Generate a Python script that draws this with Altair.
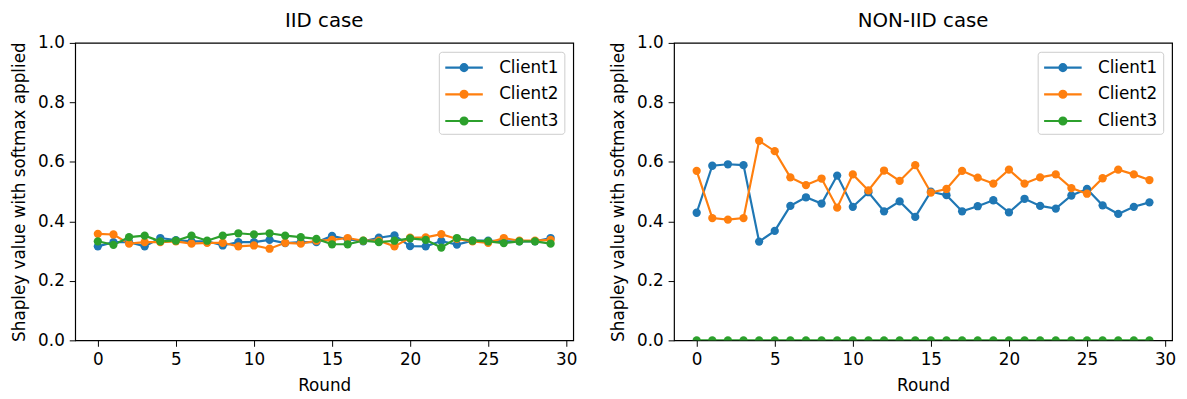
import altair as alt
import pandas as pd

rounds = list(range(30))
clients = ["Client1", "Client2", "Client3"]
colors = ["#1f77b4", "#ff7f0e", "#2ca02c"]

iid_c1 = [0.316, 0.330, 0.330, 0.316, 0.344, 0.337, 0.333, 0.333, 0.319, 0.330,
          0.330, 0.338, 0.327, 0.330, 0.330, 0.351, 0.340, 0.333, 0.345, 0.353,
          0.317, 0.316, 0.334, 0.322, 0.335, 0.335, 0.333, 0.333, 0.333, 0.344]
iid_c2 = [0.358, 0.356, 0.325, 0.330, 0.330, 0.333, 0.325, 0.328, 0.328, 0.316,
          0.319, 0.308, 0.328, 0.325, 0.335, 0.338, 0.344, 0.335, 0.335, 0.316,
          0.345, 0.346, 0.357, 0.341, 0.333, 0.328, 0.344, 0.335, 0.335, 0.338]
iid_c3 = [0.333, 0.321, 0.347, 0.352, 0.333, 0.335, 0.352, 0.335, 0.352, 0.360,
          0.356, 0.360, 0.352, 0.347, 0.341, 0.323, 0.323, 0.335, 0.330, 0.335,
          0.343, 0.338, 0.312, 0.344, 0.335, 0.333, 0.327, 0.333, 0.333, 0.325]

non_c1 = [0.429, 0.587, 0.592, 0.589, 0.332, 0.368, 0.452, 0.481, 0.460, 0.554,
          0.449, 0.498, 0.434, 0.467, 0.415, 0.500, 0.488, 0.434, 0.451, 0.471,
          0.430, 0.476, 0.452, 0.443, 0.487, 0.509, 0.454, 0.425, 0.449, 0.464]
non_c2 = [0.570, 0.411, 0.406, 0.411, 0.671, 0.636, 0.548, 0.522, 0.544, 0.446,
          0.558, 0.504, 0.571, 0.536, 0.589, 0.497, 0.509, 0.570, 0.547, 0.527,
          0.574, 0.527, 0.548, 0.558, 0.512, 0.493, 0.545, 0.574, 0.558, 0.539]
non_c3 = [0.0, 0.0, 0.0, 0.0, 0.0, 0.0, 0.0, 0.0, 0.0, 0.0,
          0.0, 0.0, 0.0, 0.0, 0.0, 0.0, 0.0, 0.0, 0.0, 0.0,
          0.0, 0.0, 0.0, 0.0, 0.0, 0.0, 0.0, 0.0, 0.0, 0.0]

x_ticks = [0, 5, 10, 15, 20, 25, 30]
y_ticks = [0.0, 0.2, 0.4, 0.6, 0.8, 1.0]


def long_df(series):
    rows = []
    for name, vals in zip(clients, series):
        for r, v in zip(rounds, vals):
            rows.append({"Round": r, "value": v, "client": name})
    return pd.DataFrame(rows)


FONT = "DejaVu Sans"
LEGEND_SYMBOL = ("M-1,0H3M1,-0.37A0.37,0.37,0,1,1,1,0.37"
                 "A0.37,0.37,0,1,1,1,-0.37Z")


def panel(series, title):
    df = long_df(series)
    x = alt.X("Round:Q",
              scale=alt.Scale(domain=[-1.45, 30.45], nice=False, zero=False),
              axis=alt.Axis(values=x_ticks, title="Round", format="d"))
    y = alt.Y("value:Q",
              scale=alt.Scale(domain=[0, 1], nice=False),
              axis=alt.Axis(values=y_ticks, format=".1f",
                            title="Shapley value with softmax applied"))
    color = alt.Color("client:N",
                      scale=alt.Scale(domain=clients, range=colors),
                      legend=alt.Legend(title=None, orient="top-right"))
    base = alt.Chart(df).encode(x=x, y=y, color=color)
    line = base.mark_line(strokeWidth=2.2, clip=True)
    pts = base.mark_point(filled=True, size=70, opacity=1, clip=True)
    return alt.layer(line, pts).properties(
        width=504, height=301,
        title=alt.TitleParams(title, fontSize=20, font=FONT,
                              fontWeight="normal", color="black", offset=3))


left = panel([iid_c1, iid_c2, iid_c3], "IID case")
right = panel([non_c1, non_c2, non_c3], "NON-IID case")

chart = alt.hconcat(left, right, spacing=31).resolve_scale(
    color="independent"
).resolve_legend(
    color="independent"
).properties(
    padding={"left": 2, "top": 0, "right": 2, "bottom": 0}
).configure_view(
    stroke="black", strokeWidth=1.2
).configure_axis(
    grid=False, domain=False, tickColor="black", tickSize=6,
    labelFont=FONT, labelFontSize=17, labelColor="black", labelPadding=5,
    titleFont=FONT, titleFontSize=17, titleColor="black",
    titleFontWeight="normal", titlePadding=9, labelFlush=False
).configure_axisX(
    titlePadding=11
).configure_legend(
    orient="top-right", offset=9, padding=5, fillColor="white",
    strokeColor="#cccccc", cornerRadius=3, labelFont=FONT, labelFontSize=17,
    labelColor="black", symbolType=LEGEND_SYMBOL, symbolSize=361,
    symbolStrokeWidth=2.2, labelOffset=34, rowPadding=8
)

chart.save("out.html", embed_options={"renderer": "svg", "actions": False})
